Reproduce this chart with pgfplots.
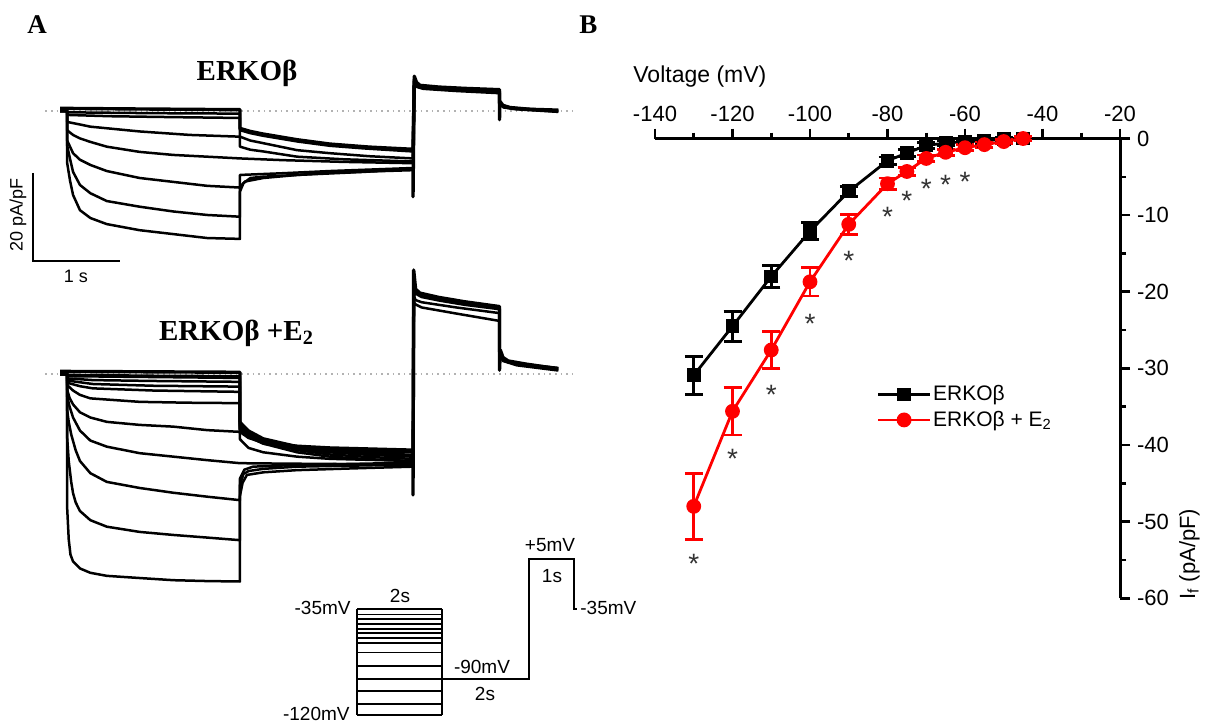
\documentclass[border=0pt]{standalone}
\usepackage{pgfplots}
\usepackage{pgfplotstable}
\pgfplotsset{compat=1.18}
\usepackage{fontspec}
\setmainfont{Liberation Sans}
\newfontfamily\tnr{Liberation Serif}
\newcommand{\fs}[1]{\fontsize{#1}{#1}\selectfont}

\pgfplotstableread{
v i e
-130 -30.9 2.5
-120 -24.5 1.95
-110 -18.0 1.4
-100 -12.1 1.1
-90 -6.9 0.65
-80 -2.9 0.5
-75 -1.9 0.5
-70 -0.9 0.4
-65 -0.6 0.3
-60 -0.4 0.3
-55 -0.3 0.3
-50 -0.1 0.2
-45 0.0 0.2
}\blk
\pgfplotstableread{
v i e
-130 -48.0 4.3
-120 -35.6 3.1
-110 -27.6 2.4
-100 -18.7 1.85
-90 -11.2 1.3
-80 -5.9 0.75
-75 -4.3 0.55
-70 -2.6 0.45
-65 -1.8 0.4
-60 -1.2 0.4
-55 -0.8 0.35
-50 -0.4 0.3
-45 0.0 0.3
}\red

\tikzset{ast/.style={anchor=base, yshift=-8pt, inner sep=0pt, text=black!80, font=\fs{14}}}
\pgfplotsset{tr/.style={black, solid, no markers, line width=1.25pt, line join=round},
  trb/.style={black, solid, no markers, line width=1.7pt, line join=round},
  pr/.style={black, solid, no markers, line width=0.8pt},
  bl/.style={gray!60, dotted, no markers, line width=0.8pt}}

\begin{document}
\begin{tikzpicture}
\path[use as bounding box] (0,0) rectangle (603.5pt,-362pt);

% ---------------- Panel A top: ERKObeta traces ----------------
\begin{axis}[hide axis, scale only axis, x=43.25pt, y=2.175pt,
  xmin=-0.5, xmax=6.0, ymin=-36, ymax=12,
  at={(11.875pt,-133.8pt)}, anchor=south west, clip=false]
\addplot[bl] coordinates {(-0.25,0) (5.85,0)};
\addplot[tr] coordinates {(-0.08,0)(0,0)(0,-11.7)(0.035,-16)(0.07,-19.3)(0.15,-22.8)(0.27,-24.6)(0.46,-26)(0.84,-27.4)(1.23,-28.3)(1.62,-29.2)(2,-29.4)(2,-18.5)(2.04,-16.6)(2.12,-15.4)(2.27,-15.1)(2.66,-14.7)(3.04,-14.2)(3.5,-13.9)(4,-13.6)};
\addplot[tr] coordinates {(-0.08,0)(0,0)(0,-7.8)(0.035,-11)(0.07,-14)(0.15,-17)(0.27,-18.9)(0.46,-20.7)(0.84,-22)(1.23,-23.1)(1.62,-23.9)(2,-24.3)(2,-17.4)(2.06,-16.2)(2.27,-15.4)(2.66,-14.7)(3.43,-14)(4,-13.3)};
\addplot[tr] coordinates {(-0.08,0)(0,0)(0,-6.7)(0.07,-9.7)(0.15,-11.2)(0.27,-12.4)(0.46,-13.8)(0.84,-15.4)(1.23,-16.3)(1.62,-17.2)(2,-17.6)(2,-14.7)(2.5,-14.3)(3.04,-13.8)(4,-13.1)};
\addplot[tr] coordinates {(-0.08,0)(0,0)(0,-4.4)(0.07,-5.5)(0.15,-6.3)(0.27,-7.1)(0.46,-8.2)(0.84,-9.4)(1.23,-10.1)(1.62,-10.5)(2,-10.9)(2.5,-11.3)(3.2,-11.7)(4,-12)};
\addplot[tr] coordinates {(-0.08,0)(0,0)(0,-2.5)(0.15,-3.1)(0.27,-3.6)(0.84,-4.7)(1.42,-5.5)(2,-5.9)(2,-8.2)(2.12,-8.9)(2.27,-9.3)(2.66,-10.5)(3.2,-11.1)(4,-11.6)};
\addplot[tr] coordinates {(-0.08,0.2)(0,0.2)(0,-0.9)(0.5,-1.2)(1.2,-1.4)(2,-1.6)(2,-5.9)(2.12,-6.8)(2.27,-7.4)(2.66,-9)(3.04,-9.7)(3.5,-10.4)(4,-10.9)};
\addplot[tr] coordinates {(-0.08,0.4)(0,0.4)(0,-0.3)(1,-0.5)(2,-0.6)(2,-4.4)(2.12,-5.1)(2.27,-5.7)(2.66,-7)(3.04,-8)(3.43,-8.6)(4,-9.3)};
\addplot[trb] coordinates {(-0.08,0.6)(0,0.6)(0.6,0.5)(1.3,0.4)(2,0.3)(2,-4)(2.12,-4.7)(2.27,-5.3)(2.66,-6.6)(3.04,-7.6)(3.5,-8.3)(4,-8.8)};
\addplot[trb] coordinates {(4,-13.6)(4,-19.7)(4.015,8)(4.04,6.6)(4.08,5.9)(4.3,5.5)(4.6,5.2)(5,4.9)(5,-2)(5.005,2.2)(5.04,1.3)(5.12,0.8)(5.35,0.4)(5.68,0.2)};
\addplot[trb] coordinates {(4,-11)(4.015,7.2)(4.04,6.1)(4.1,5.6)(4.5,5.0)(5,4.5)(5,2)(5.04,1.1)(5.15,0.6)(5.4,0.3)(5.68,0.0)};
\addplot[trb] coordinates {(4,-9)(4.015,6.8)(4.05,5.6)(4.12,5.2)(4.5,4.7)(5,4.2)(5,1.7)(5.05,0.9)(5.2,0.5)(5.68,-0.1)};
% scale bar
\addplot[black, solid, no markers, line width=1pt] coordinates {(-0.393,-14.25)(-0.393,-34.4)(0.613,-34.4)};
\end{axis}

% ---------------- Panel A bottom: ERKObeta + E2 traces ----------------
\begin{axis}[hide axis, scale only axis, x=43.25pt, y=2.175pt,
  xmin=-0.5, xmax=6.0, ymin=-52, ymax=26,
  at={(11.875pt,-300.1pt)}, anchor=south west, clip=false]
\addplot[bl] coordinates {(-0.25,0) (5.85,0)};
\addplot[tr] coordinates {(-0.08,0)(0,0)(0,-30)(0.02,-38)(0.04,-41.5)(0.07,-43.1)(0.15,-44.7)(0.27,-45.7)(0.46,-46.4)(0.84,-46.9)(1.23,-47.4)(1.62,-47.6)(2,-47.7)(2,-28)(2.03,-25)(2.08,-23.2)(2.27,-22.6)(2.66,-22.1)(3.3,-21.7)(4,-21.3)};
\addplot[tr] coordinates {(-0.08,0)(0,0)(0,-14)(0.02,-20)(0.05,-25)(0.07,-27.4)(0.1,-29.5)(0.15,-31.5)(0.27,-33.6)(0.46,-35.1)(0.84,-36.3)(1.23,-37)(1.62,-37.6)(2,-38.2)(2,-25.5)(2.04,-23)(2.1,-22.3)(2.27,-21.8)(2.66,-21.3)(4,-20.8)};
\addplot[tr] coordinates {(-0.08,0)(0,0)(0,-8)(0.02,-11)(0.05,-14)(0.1,-17.5)(0.15,-20)(0.27,-22.8)(0.46,-24.8)(0.84,-26.2)(1.23,-27.3)(1.62,-28.2)(2,-29)(2,-24)(2.05,-22)(2.15,-21.3)(2.66,-20.9)(4,-20.4)};
\addplot[tr] coordinates {(-0.08,0)(0,0)(0,-5)(0.03,-7.5)(0.07,-10)(0.15,-13)(0.27,-15.3)(0.46,-16.7)(0.84,-18.2)(1.23,-19)(1.62,-19.8)(2,-20.5)(2.5,-20.6)(3.2,-20.7)(4,-20.9)};
\addplot[tr] coordinates {(-0.08,0)(0,0)(0,-3.5)(0.03,-5.5)(0.07,-7)(0.15,-8.8)(0.27,-10)(0.46,-11)(0.84,-11.7)(1.23,-12.1)(1.62,-12.9)(2,-13.3)(2,-15)(2.1,-17)(2.27,-18)(2.66,-19)(3.04,-19.5)(4,-20)};
\addplot[tr] coordinates {(-0.08,0)(0,0)(0,-2.5)(0.07,-3.8)(0.15,-4.8)(0.27,-5.6)(0.84,-6.4)(1.4,-6.6)(2,-6.7)(2,-11)(2.1,-13.5)(2.27,-15.2)(2.66,-17.2)(3.04,-18)(3.5,-18.6)(4,-19)};
\addplot[tr] coordinates {(-0.08,0)(0,0)(0,-2)(0.15,-2.8)(0.3,-3.3)(1,-3.8)(2,-4.1)(2,-11)(2.1,-13)(2.27,-14.8)(2.66,-16.6)(3.04,-17.5)(3.5,-18.1)(4,-18.6)};
\addplot[tr] coordinates {(-0.08,0)(0,0)(0,-1.5)(0.3,-2.3)(1,-2.7)(2,-2.9)(2,-11.5)(2.1,-13.2)(2.27,-15)(2.66,-16.8)(3.04,-17.7)(3.5,-18.4)(4,-18.8)};
\addplot[tr] coordinates {(-0.08,0)(0,0)(0,-1)(0.3,-1.4)(1,-1.6)(2,-1.8)(2,-12)(2.1,-13.8)(2.27,-15.5)(2.66,-17.5)(3.04,-18.5)(3.5,-19.1)(4,-19.5)};
\addplot[tr] coordinates {(-0.08,0.3)(0,0.3)(0,-0.5)(1,-0.7)(2,-0.9)(2,-12.5)(2.1,-14.3)(2.27,-16)(2.66,-18)(3.04,-19)(3.5,-19.6)(4,-20)};
\addplot[tr] coordinates {(-0.08,0.5)(0,0.5)(0,-0.2)(1,-0.4)(2,-0.5)(2,-12.8)(2.1,-14.5)(2.27,-16)(2.66,-17.2)(3.04,-17.6)(4,-18)};
\addplot[trb] coordinates {(-0.08,0.6)(2,0.4)(2,-13.2)(2.1,-14.6)(2.27,-15.7)(2.66,-16.6)(3.04,-17)(4,-17.5)};
\addplot[trb] coordinates {(4,-21.3)(4,-27.8)(4.008,23.9)(4.03,19.5)(4.08,18.6)(4.3,17.6)(4.6,16.6)(5,15.5)(5,0.9)(5.01,5.5)(5.04,3.8)(5.1,3)(5.3,2.3)(5.68,1.2)};
\addplot[trb] coordinates {(4,-20.5)(4.01,21)(4.03,18.6)(4.1,17.8)(4.3,17)(4.6,16)(5,15)(5,5.2)(5.04,3.5)(5.1,2.8)(5.3,2.1)(5.68,1.3)};
\addplot[tr] coordinates {(4,-19.5)(4.01,18)(4.03,17)(4.1,16.5)(4.5,15.3)(5,14)(5,4.8)(5.04,3.3)(5.2,2.2)(5.68,1.0)};
\addplot[tr] coordinates {(4,-18)(4.01,16.5)(4.03,16)(4.1,15.3)(4.5,13.9)(5,12.2)(5,4.5)(5.04,3)(5.2,2)(5.68,0.8)};
\end{axis}

% ---------------- Voltage protocol ----------------
\begin{axis}[hide axis, scale only axis, x=21.25pt, y=0.6235pt,
  xmin=-0.2, xmax=5.3, ymin=-125, ymax=10,
  at={(174.25pt,-360.6pt)}, anchor=south west, clip=false]
\addplot[pr] coordinates {(0,-35)(0,-120)};
\addplot[pr] coordinates {(2,-35)(2,-120)};
\addplot[pr] coordinates {(0,-35)(2,-35)};
\addplot[pr] coordinates {(0,-39.5)(2,-39.5)};
\addplot[pr] coordinates {(0,-43)(2,-43)};
\addplot[pr] coordinates {(0,-47)(2,-47)};
\addplot[pr] coordinates {(0,-51)(2,-51)};
\addplot[pr] coordinates {(0,-54.5)(2,-54.5)};
\addplot[pr] coordinates {(0,-58.5)(2,-58.5)};
\addplot[pr] coordinates {(0,-62.5)(2,-62.5)};
\addplot[pr] coordinates {(0,-70)(2,-70)};
\addplot[pr] coordinates {(0,-80.5)(2,-80.5)};
\addplot[pr] coordinates {(0,-91)(2,-91)};
\addplot[pr] coordinates {(0,-101)(2,-101)};
\addplot[pr] coordinates {(0,-111)(2,-111)};
\addplot[pr] coordinates {(0,-120)(2,-120)};
\addplot[pr] coordinates {(2,-91)(4.05,-91)(4.05,5)(5.1,5)(5.1,-35)(5.17,-35)};
\end{axis}

% ---------------- Panel B: I-V ----------------
\begin{axis}[
  at={(327.5pt,-299.15pt)}, anchor=south west,
  width=232.5pt, height=229.9pt, scale only axis,
  xmin=-140, xmax=-20, ymin=-60, ymax=0,
  axis x line=top, axis y line=right,
  axis line style={-, line width=1.5pt},
  xtick={-140,-120,...,-20}, minor xtick={-130,-110,...,-30},
  ytick={-60,-50,...,0}, minor ytick={-55,-45,...,-5},
  tick align=outside, major tick length=5pt, minor tick length=3pt,
  every tick/.style={black, line width=1.3pt},
  tick label style={font=\fs{11}},
  /pgf/number format/assume math mode=true,
  clip=false,
  legend style={draw=none, fill=none, at={(0.463,0.4156)}, anchor=west,
    font=\fs{10.5}, row sep=2pt, nodes={inner sep=0.8pt}},
  legend cell align=left,
  legend image code/.code={\draw[mark repeat=2,mark phase=2] plot coordinates {(0pt,0pt)(13pt,0pt)(26pt,0pt)};},
]
\addplot[black, line width=1.4pt, mark=square*, mark size=2.75pt, mark options={solid, fill=black},
  error bars/.cd, y dir=both, y explicit, error bar style={line width=1.4pt, black},
  error mark options={rotate=90, mark size=4.5pt, line width=1.4pt, black}]
  table[x=v, y=i, y error=e] {\blk};
\addlegendentry{ERKOβ}
\addplot[red, line width=1.4pt, mark=*, mark size=3pt, mark options={solid, fill=red},
  error bars/.cd, y dir=both, y explicit, error bar style={line width=1.4pt, red},
  error mark options={rotate=90, mark size=4.5pt, line width=1.4pt, red}]
  table[x=v, y=i, y error=e] {\red};
\addlegendentry{ERKOβ + E\textsubscript{2}}
% significance asterisks
\node[ast] at (axis cs:-130,-54.7) {*};
\node[ast] at (axis cs:-120,-41.0) {*};
\node[ast] at (axis cs:-110,-32.6) {*};
\node[ast] at (axis cs:-100,-23.4) {*};
\node[ast] at (axis cs:-90,-15.1) {*};
\node[ast] at (axis cs:-80,-9.4) {*};
\node[ast] at (axis cs:-75,-7.3) {*};
\node[ast] at (axis cs:-70,-5.8) {*};
\node[ast] at (axis cs:-65,-5.2) {*};
\node[ast] at (axis cs:-60,-4.8) {*};
\end{axis}

% ---------------- Texts ----------------
\node[anchor=base west, inner sep=0pt, font=\tnr\bfseries\fs{13.5}] at (13.5pt,-16.5pt) {A};
\node[anchor=base west, inner sep=0pt, font=\tnr\bfseries\fs{13.5}] at (289.5pt,-16.5pt) {B};
\node[anchor=base, inner sep=0pt, font=\tnr\bfseries\fs{14.5}] at (123.5pt,-40pt) {ERKOβ};
\node[anchor=base, inner sep=0pt, font=\tnr\bfseries\fs{14.5}] at (118.25pt,-170pt) {ERKOβ +E\textsubscript{2}};
\node[rotate=90, inner sep=0pt, font=\fs{9}] at (9pt,-107.5pt) {20 pA/pF};
\node[anchor=base, inner sep=0pt, font=\fs{9}] at (38pt,-141pt) {1 s};
% protocol labels
\node[anchor=base, inner sep=0pt, font=\fs{9.5}] at (200pt,-301pt) {2s};
\node[anchor=base east, inner sep=0pt, font=\fs{9.5}] at (175.5pt,-307pt) {-35mV};
\node[anchor=base east, inner sep=0pt, font=\fs{9.5}] at (175pt,-360pt) {-120mV};
\node[anchor=base, inner sep=0pt, font=\fs{9.5}] at (241pt,-336.5pt) {-90mV};
\node[anchor=base, inner sep=0pt, font=\fs{9.5}] at (242.5pt,-350pt) {2s};
\node[anchor=base, inner sep=0pt, font=\fs{9.5}] at (275pt,-275.5pt) {+5mV};
\node[anchor=base, inner sep=0pt, font=\fs{9.5}] at (276pt,-291pt) {1s};
\node[anchor=base west, inner sep=0pt, font=\fs{9.5}] at (290pt,-307pt) {-35mV};
% panel B labels
\node[anchor=base west, inner sep=0pt, font=\fs{11.5}] at (316.5pt,-41pt) {Voltage (mV)};
\node[rotate=90, anchor=base west, inner sep=0pt, font=\fs{11}] at (597.5pt,-300pt) {I\textsubscript{f} (pA/pF)};
\end{tikzpicture}
\end{document}
